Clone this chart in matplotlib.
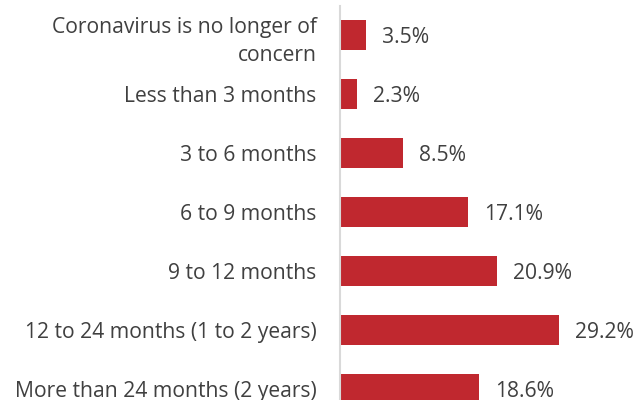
import numpy as np
import matplotlib
matplotlib.use("Agg")
import matplotlib.pyplot as plt

categories = ["Coronavirus is no longer of\nconcern", "Less than 3 months", "3 to 6 months",
              "6 to 9 months", "9 to 12 months", "12 to 24 months (1 to 2 years)",
              "More than 24 months (2 years)"]
values = [3.5, 2.3, 8.5, 17.1, 20.9, 29.2, 18.6]

bar_color = "#c0282f"
text_color = "#404040"
plt.rcParams['font.family'] = ['Open Sans', 'DejaVu Sans']

W, H = 639, 400
fig = plt.figure(figsize=(W / 100, H / 100), dpi=100)
left = 339.5 / W
top = (H - 5.5) / H
height = 413 / H
ax = fig.add_axes([left, top - height, 1 - left, height])

ypos = np.arange(len(categories))
ax.barh(ypos, values, height=0.5, color=bar_color)
ax.set_ylim(len(categories) - 0.5, -0.5)
ax.set_xlim(0, 39.8)

fs = 15.2
for y, v in zip(ypos, values):
    ax.annotate("{:.1f}%".format(v), (v, y), xytext=(11.5, -2.0), textcoords="offset points",
                va="center", ha="left", fontsize=fs, color=text_color)

ax.set_yticks(ypos)
ax.set_yticklabels(categories, fontsize=fs, color=text_color)
ax.get_yticklabels()[0].set_linespacing(1.45)
ax.tick_params(axis="y", length=0, pad=16.5)
ax.set_xticks([])
for s in ["top", "right", "bottom"]:
    ax.spines[s].set_visible(False)
ax.spines["left"].set_color("#d9d9d9")
ax.spines["left"].set_linewidth(1.5)

fig.savefig("out.png", dpi=100)
